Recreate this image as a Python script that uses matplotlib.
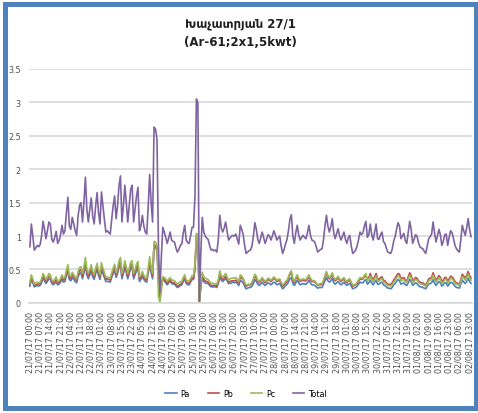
import numpy as np
import pandas as pd
import matplotlib
matplotlib.use("Agg")
import matplotlib.pyplot as plt
from matplotlib.patches import Rectangle

# hourly readings 21/07/17 00:00 .. 02/08/17 14:00
times = pd.date_range("2017-07-21 00:00", periods=303, freq="h")
tick_labels = [t.strftime("%d/%m/%y %H:%M") for t in times[::7]]

total = [
    0.84, 1.18, 1.00, 0.79, 0.82, 0.86, 0.84, 0.87, 1.00, 1.22, 1.10, 0.96, 1.08, 1.21, 1.18, 0.95,
    0.91, 0.98, 1.07, 0.89, 0.93, 1.02, 1.16, 1.03, 1.08, 1.35, 1.58, 1.15, 1.10, 1.28, 1.18, 1.08,
    1.01, 1.30, 1.46, 1.50, 1.21, 1.50, 1.88, 1.40, 1.21, 1.40, 1.57, 1.30, 1.18, 1.45, 1.65, 1.35,
    1.18, 1.66, 1.45, 1.25, 1.06, 1.08, 1.05, 1.03, 1.25, 1.45, 1.60, 1.26, 1.45, 1.75, 1.90, 1.21,
    1.45, 1.76, 1.50, 1.21, 1.45, 1.70, 1.76, 1.21, 1.40, 1.60, 1.73, 1.08, 1.15, 1.31, 1.15, 1.06,
    1.03, 1.45, 1.92, 1.50, 1.21, 2.63, 2.60, 2.45, 0.86, 0.16, 0.70, 1.13, 1.06, 0.98, 0.89, 0.97,
    1.06, 0.94, 0.92, 0.91, 0.82, 0.76, 0.80, 0.86, 0.88, 1.05, 1.16, 0.94, 0.90, 0.89, 1.00, 1.13,
    1.13, 1.60, 3.05, 3.00, 0.02, 0.75, 1.28, 1.06, 1.00, 0.97, 0.95, 0.86, 0.79, 0.80, 0.78, 0.79,
    0.76, 0.95, 1.31, 1.12, 1.06, 1.12, 1.21, 1.08, 0.94, 0.97, 1.00, 1.01, 1.00, 1.03, 0.95, 0.88,
    1.16, 1.10, 1.02, 0.86, 0.74, 0.76, 0.78, 0.79, 0.85, 1.00, 1.20, 1.10, 0.95, 0.89, 0.97, 1.06,
    0.98, 0.89, 0.95, 1.02, 1.00, 0.94, 1.00, 1.08, 1.02, 0.94, 0.97, 1.00, 0.85, 0.74, 0.80, 0.88,
    0.95, 1.08, 1.25, 1.32, 1.00, 0.89, 1.05, 1.16, 1.02, 0.94, 0.98, 1.01, 0.98, 0.96, 1.05, 1.16,
    1.02, 0.94, 0.93, 0.91, 0.84, 0.76, 0.78, 0.80, 0.81, 0.95, 1.15, 1.31, 1.15, 1.06, 1.14, 1.26,
    1.05, 0.96, 1.04, 1.11, 1.00, 0.94, 1.00, 1.06, 0.95, 0.89, 0.98, 1.01, 0.85, 0.74, 0.76, 0.79,
    0.85, 0.95, 1.06, 1.02, 1.05, 1.15, 1.22, 0.98, 1.02, 1.18, 1.02, 0.94, 1.06, 1.18, 0.96, 0.95,
    1.02, 1.06, 0.92, 0.89, 0.82, 0.76, 0.75, 0.74, 0.80, 0.92, 0.99, 1.10, 1.20, 1.15, 0.96, 1.00,
    1.04, 0.93, 0.89, 1.05, 1.22, 1.10, 0.89, 0.95, 1.02, 1.00, 0.90, 0.84, 0.82, 0.81, 0.77, 0.74,
    0.85, 0.96, 0.99, 1.03, 1.21, 1.05, 0.91, 1.00, 1.10, 1.02, 0.86, 0.92, 1.02, 1.03, 0.86, 0.98,
    1.08, 1.05, 0.96, 0.86, 0.81, 0.78, 0.76, 0.95, 1.16, 1.08, 1.01, 1.12, 1.26, 1.10, 0.99,
]

pa = [
    0.25, 0.35, 0.30, 0.24, 0.25, 0.26, 0.25, 0.26, 0.30, 0.37, 0.33, 0.29, 0.32, 0.36, 0.35, 0.29,
    0.27, 0.29, 0.32, 0.27, 0.28, 0.31, 0.35, 0.31, 0.32, 0.41, 0.47, 0.35, 0.33, 0.38, 0.35, 0.32,
    0.30, 0.39, 0.44, 0.45, 0.36, 0.45, 0.56, 0.42, 0.36, 0.42, 0.47, 0.39, 0.35, 0.44, 0.50, 0.41,
    0.35, 0.50, 0.44, 0.38, 0.32, 0.32, 0.32, 0.31, 0.38, 0.44, 0.48, 0.38, 0.44, 0.53, 0.57, 0.36,
    0.44, 0.53, 0.45, 0.36, 0.44, 0.51, 0.53, 0.36, 0.42, 0.48, 0.52, 0.32, 0.35, 0.39, 0.35, 0.32,
    0.31, 0.44, 0.58, 0.45, 0.36, 0.84, 0.83, 0.78, 0.40, 0.07, 0.25, 0.36, 0.33, 0.30, 0.27, 0.30,
    0.33, 0.29, 0.28, 0.28, 0.25, 0.23, 0.24, 0.26, 0.27, 0.32, 0.36, 0.29, 0.27, 0.27, 0.31, 0.35,
    0.35, 0.50, 1.00, 0.98, 0.01, 0.23, 0.39, 0.32, 0.30, 0.29, 0.29, 0.26, 0.24, 0.24, 0.24, 0.24,
    0.23, 0.29, 0.40, 0.34, 0.32, 0.34, 0.37, 0.33, 0.29, 0.29, 0.30, 0.31, 0.30, 0.31, 0.29, 0.26,
    0.34, 0.32, 0.30, 0.25, 0.21, 0.22, 0.23, 0.23, 0.25, 0.29, 0.35, 0.32, 0.28, 0.26, 0.28, 0.31,
    0.28, 0.26, 0.28, 0.30, 0.29, 0.27, 0.29, 0.31, 0.30, 0.27, 0.28, 0.29, 0.25, 0.21, 0.23, 0.26,
    0.28, 0.31, 0.36, 0.38, 0.29, 0.26, 0.30, 0.34, 0.30, 0.27, 0.28, 0.29, 0.28, 0.28, 0.30, 0.34,
    0.30, 0.27, 0.27, 0.26, 0.24, 0.22, 0.23, 0.23, 0.23, 0.28, 0.33, 0.38, 0.33, 0.31, 0.33, 0.37,
    0.30, 0.28, 0.30, 0.32, 0.29, 0.27, 0.29, 0.31, 0.28, 0.26, 0.28, 0.29, 0.25, 0.21, 0.22, 0.23,
    0.25, 0.28, 0.31, 0.30, 0.30, 0.33, 0.35, 0.28, 0.30, 0.34, 0.30, 0.27, 0.31, 0.34, 0.28, 0.28,
    0.30, 0.31, 0.27, 0.26, 0.24, 0.22, 0.22, 0.21, 0.23, 0.27, 0.29, 0.32, 0.35, 0.33, 0.28, 0.29,
    0.30, 0.27, 0.26, 0.30, 0.35, 0.32, 0.26, 0.28, 0.30, 0.29, 0.26, 0.24, 0.24, 0.23, 0.22, 0.21,
    0.25, 0.28, 0.29, 0.30, 0.35, 0.30, 0.26, 0.29, 0.32, 0.30, 0.25, 0.27, 0.30, 0.30, 0.25, 0.28,
    0.31, 0.30, 0.28, 0.25, 0.23, 0.23, 0.22, 0.28, 0.34, 0.31, 0.29, 0.32, 0.37, 0.32, 0.29,
]

pb = [
    0.28, 0.39, 0.33, 0.26, 0.27, 0.28, 0.28, 0.29, 0.33, 0.40, 0.36, 0.32, 0.36, 0.40, 0.39, 0.31,
    0.30, 0.32, 0.35, 0.29, 0.31, 0.34, 0.38, 0.34, 0.36, 0.45, 0.52, 0.38, 0.36, 0.42, 0.39, 0.36,
    0.33, 0.43, 0.48, 0.50, 0.40, 0.50, 0.62, 0.46, 0.40, 0.46, 0.52, 0.43, 0.39, 0.48, 0.54, 0.45,
    0.39, 0.55, 0.48, 0.41, 0.35, 0.36, 0.35, 0.34, 0.41, 0.48, 0.53, 0.42, 0.48, 0.58, 0.63, 0.40,
    0.48, 0.58, 0.50, 0.40, 0.48, 0.56, 0.58, 0.40, 0.46, 0.53, 0.57, 0.36, 0.38, 0.43, 0.38, 0.35,
    0.34, 0.48, 0.63, 0.50, 0.40, 0.87, 0.86, 0.82, 0.36, 0.09, 0.27, 0.38, 0.35, 0.32, 0.29, 0.32,
    0.35, 0.31, 0.30, 0.30, 0.27, 0.25, 0.26, 0.28, 0.29, 0.35, 0.38, 0.31, 0.30, 0.29, 0.33, 0.37,
    0.37, 0.53, 1.01, 1.00, 0.01, 0.25, 0.43, 0.35, 0.33, 0.32, 0.31, 0.28, 0.26, 0.26, 0.26, 0.26,
    0.25, 0.31, 0.43, 0.37, 0.35, 0.37, 0.40, 0.36, 0.31, 0.32, 0.33, 0.33, 0.33, 0.34, 0.31, 0.30,
    0.39, 0.37, 0.35, 0.29, 0.25, 0.26, 0.27, 0.27, 0.29, 0.34, 0.41, 0.37, 0.32, 0.30, 0.33, 0.36,
    0.33, 0.30, 0.32, 0.35, 0.34, 0.32, 0.34, 0.37, 0.35, 0.32, 0.33, 0.34, 0.29, 0.25, 0.27, 0.30,
    0.32, 0.37, 0.43, 0.45, 0.34, 0.30, 0.36, 0.39, 0.35, 0.32, 0.33, 0.34, 0.33, 0.33, 0.36, 0.39,
    0.35, 0.32, 0.32, 0.31, 0.29, 0.26, 0.27, 0.27, 0.28, 0.32, 0.39, 0.45, 0.39, 0.36, 0.39, 0.43,
    0.36, 0.33, 0.35, 0.38, 0.34, 0.32, 0.34, 0.36, 0.32, 0.30, 0.33, 0.34, 0.29, 0.25, 0.26, 0.27,
    0.29, 0.32, 0.36, 0.35, 0.36, 0.39, 0.41, 0.36, 0.38, 0.44, 0.38, 0.35, 0.39, 0.44, 0.36, 0.35,
    0.38, 0.39, 0.34, 0.33, 0.30, 0.28, 0.28, 0.27, 0.30, 0.34, 0.37, 0.41, 0.44, 0.43, 0.36, 0.37,
    0.38, 0.34, 0.33, 0.39, 0.45, 0.41, 0.33, 0.35, 0.38, 0.37, 0.33, 0.31, 0.30, 0.30, 0.28, 0.27,
    0.31, 0.36, 0.37, 0.38, 0.45, 0.39, 0.34, 0.37, 0.41, 0.38, 0.32, 0.34, 0.38, 0.38, 0.32, 0.36,
    0.40, 0.39, 0.36, 0.32, 0.30, 0.29, 0.28, 0.35, 0.43, 0.40, 0.37, 0.41, 0.47, 0.41, 0.37,
]

pc = [
    0.30, 0.42, 0.36, 0.28, 0.30, 0.31, 0.30, 0.31, 0.36, 0.44, 0.40, 0.35, 0.39, 0.44, 0.42, 0.34,
    0.33, 0.35, 0.39, 0.32, 0.33, 0.37, 0.42, 0.37, 0.39, 0.49, 0.57, 0.41, 0.40, 0.46, 0.42, 0.39,
    0.36, 0.47, 0.53, 0.54, 0.44, 0.54, 0.68, 0.50, 0.44, 0.50, 0.57, 0.47, 0.42, 0.52, 0.59, 0.49,
    0.42, 0.60, 0.52, 0.45, 0.38, 0.39, 0.38, 0.37, 0.45, 0.52, 0.58, 0.45, 0.52, 0.63, 0.68, 0.44,
    0.52, 0.63, 0.54, 0.44, 0.52, 0.61, 0.63, 0.44, 0.50, 0.58, 0.62, 0.39, 0.41, 0.47, 0.41, 0.38,
    0.37, 0.52, 0.69, 0.54, 0.44, 0.92, 0.91, 0.85, 0.10, 0.00, 0.18, 0.39, 0.38, 0.36, 0.33, 0.35,
    0.38, 0.34, 0.34, 0.33, 0.30, 0.28, 0.30, 0.32, 0.32, 0.38, 0.42, 0.34, 0.33, 0.33, 0.36, 0.41,
    0.41, 0.57, 1.04, 1.02, 0.00, 0.27, 0.46, 0.39, 0.37, 0.36, 0.35, 0.32, 0.29, 0.30, 0.28, 0.29,
    0.28, 0.35, 0.48, 0.41, 0.39, 0.41, 0.44, 0.39, 0.34, 0.36, 0.37, 0.37, 0.37, 0.38, 0.35, 0.32,
    0.42, 0.40, 0.37, 0.31, 0.27, 0.27, 0.28, 0.28, 0.31, 0.36, 0.43, 0.40, 0.34, 0.32, 0.35, 0.38,
    0.35, 0.32, 0.34, 0.37, 0.36, 0.34, 0.36, 0.39, 0.37, 0.34, 0.35, 0.36, 0.31, 0.27, 0.29, 0.32,
    0.34, 0.39, 0.45, 0.48, 0.36, 0.32, 0.38, 0.42, 0.37, 0.34, 0.35, 0.36, 0.35, 0.35, 0.38, 0.42,
    0.37, 0.34, 0.33, 0.33, 0.30, 0.27, 0.28, 0.29, 0.29, 0.34, 0.41, 0.47, 0.41, 0.38, 0.41, 0.45,
    0.38, 0.35, 0.37, 0.40, 0.36, 0.34, 0.36, 0.38, 0.34, 0.32, 0.35, 0.36, 0.31, 0.27, 0.27, 0.28,
    0.31, 0.34, 0.38, 0.37, 0.38, 0.41, 0.44, 0.33, 0.35, 0.40, 0.35, 0.32, 0.36, 0.40, 0.33, 0.32,
    0.35, 0.36, 0.31, 0.30, 0.28, 0.26, 0.26, 0.25, 0.27, 0.31, 0.34, 0.37, 0.41, 0.39, 0.33, 0.34,
    0.35, 0.32, 0.30, 0.36, 0.41, 0.37, 0.30, 0.32, 0.35, 0.34, 0.31, 0.29, 0.28, 0.28, 0.26, 0.25,
    0.29, 0.33, 0.34, 0.35, 0.41, 0.36, 0.31, 0.34, 0.37, 0.35, 0.29, 0.31, 0.35, 0.35, 0.29, 0.33,
    0.37, 0.36, 0.33, 0.29, 0.28, 0.27, 0.26, 0.32, 0.39, 0.37, 0.34, 0.38, 0.43, 0.37, 0.34,
]

series = [("Pa", pa, "#4F81BD"), ("Pb", pb, "#C0504D"),
          ("Pc", pc, "#9BBB59"), ("Total", total, "#8064A2")]

fig = plt.figure(figsize=(4.78, 4.14), dpi=100)
ax = fig.add_axes([0.061, 0.266, 0.926, 0.565])

x = np.arange(len(times))
for name, vals, col in series:
    ax.plot(x, vals, color=col, lw=1.2, label=name)

ax.set_ylim(0, 3.5)
ax.set_xlim(-0.5, len(times) - 0.5)
ax.set_yticks(np.arange(0, 3.51, 0.5))
ax.set_yticklabels(["0", "0.5", "1", "1.5", "2", "2.5", "3", "3.5"])
ax.set_xticks(x[::7])
ax.set_xticklabels(tick_labels, rotation=90, fontsize=5.8, color="#505050")
ax.tick_params(axis="y", labelsize=5.8, colors="#505050", length=0, pad=6)
ax.tick_params(axis="x", length=0, pad=6)
ax.grid(axis="y", color="#D9D9D9", lw=1.2)
ax.set_axisbelow(True)
for s in ["top", "right", "left"]:
    ax.spines[s].set_visible(False)
ax.spines["bottom"].set_color("#D9D9D9")
ax.spines["bottom"].set_linewidth(1.2)

fig.text(0.503, 0.92, "Խաչատրյան 27/1\n(Ar-61;2x1,5kwt)", ha="center", va="center",
         fontsize=8.5, fontweight="bold", linespacing=1.6, color="#202020")

fig.legend(loc="center", bbox_to_anchor=(0.515, 0.047), ncol=4, frameon=False,
           fontsize=5.8, handlelength=1.4, handletextpad=0.5, columnspacing=2.2)

fig.patches.append(Rectangle((0.0115, 0.0121), 0.9843, 0.977, transform=fig.transFigure,
                             fill=False, edgecolor="#4F81BD", lw=3.6))

fig.savefig("out.png", dpi=100)
